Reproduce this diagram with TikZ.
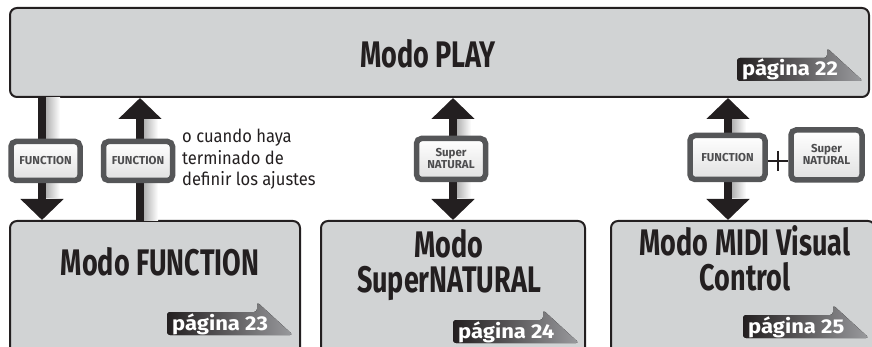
\documentclass[tikz,border=0pt]{standalone}
\usepackage{fontspec}
\setmainfont{Fira Sans}
\newfontfamily\condfont[FakeStretch=0.73]{Fira Sans}
\newfontfamily\notefont[FakeStretch=0.92]{Fira Sans}
\newfontfamily\tagfont[FakeStretch=1.1]{Fira Sans}
\usetikzlibrary{arrows.meta,calc}
\definecolor{ink}{HTML}{231F20}
\definecolor{boxgray}{HTML}{D1D3D4}
\definecolor{btndark}{HTML}{555658}
\definecolor{btntext}{HTML}{4D4D4F}
\definecolor{taggray}{HTML}{9A9B9E}
\newcommand\pagetag[4]{%
  \fill[left color=ink, right color=taggray, rounded corners=3pt]
    (#2+90,#3) -- (#2,#3) -- (#2,#3-23) -- (#2+90,#3-23) -- (#2+90,#3-33) -- (#2+126,#3) -- cycle;
  \node[tagtext] (#1) at (#2+5,#3-5) {#4};
}
\newcommand\shaftshadow[3]{%
  \fill[left color=black!30, right color=white] (#1+4,#2) rectangle (#1+18,#3);
}
\begin{document}
\begin{tikzpicture}[x=1pt,y=-1pt,
  modebox/.style={draw=ink, line width=2pt, fill=boxgray, rounded corners=7pt, inner sep=0pt, outer sep=0pt},
  modetext/.style={font=\condfont\bfseries\fontsize{37}{35}\selectfont, text=ink, align=center, inner sep=0pt, anchor=base},
  bigarrow/.style={draw=ink, line width=8pt, -{Triangle[width=42pt,length=21pt]}, shorten >=1pt},
  dblarrow/.style={draw=ink, line width=8pt, {Triangle[width=42pt,length=21pt]}-{Triangle[width=42pt,length=21pt]}, shorten >=1pt, shorten <=1pt},
  btn/.style={rounded corners=5pt, draw=btndark, line width=5.5pt, top color=white, bottom color=black!12,
    inner sep=0pt, text=btntext, align=center, font=\bfseries\fontsize{11.5}{12}\selectfont},
  tagtext/.style={anchor=base west, inner sep=0pt, text=white, font=\tagfont\bfseries\fontsize{20}{20}\selectfont},
  note/.style={anchor=north west, inner sep=0pt, align=left, text=ink, font=\notefont\fontsize{18}{21.5}\selectfont}
]
\useasboundingbox (0,0) rectangle (872,347);
\clip (0,0) rectangle (872,347);

% mode boxes
\node[modebox, minimum width=859pt, minimum height=89pt] (play) at (439.5,52.5) {};
\node[modebox, minimum width=290pt, minimum height=150pt] (fn) at (155,296) {};
\node[modebox, minimum width=264pt, minimum height=150pt] (sn) at (453,296) {};
\node[modebox, minimum width=264pt, minimum height=150pt] (midi) at (743,296) {};

% titles
\node[modetext] (tplay) at (428,68) {Modo PLAY};
\node[modetext] (tfn) at (160,275) {Modo FUNCTION};
\node[modetext] (tsn) at (449,292) {Modo\\SuperNATURAL};
\node[modetext] (tmidi) at (745,290) {Modo MIDI Visual\\Control};

% page tags
\pagetag{p22}{737}{81}{página 22}
\pagetag{p23}{167}{335}{página 23}
\pagetag{p24}{453}{343}{página 24}
\pagetag{p25}{743}{338}{página 25}

% arrow columns
\coordinate (c1) at (42,0);
\coordinate (c2) at (140,0);
\coordinate (c3) at (453,0);
\coordinate (c4) at (728,0);

\shaftshadow{42}{98}{198}
\shaftshadow{140}{118}{221}
\shaftshadow{453}{118}{198}
\shaftshadow{728}{118}{198}

\draw[bigarrow] (play.south -| c1) -- (fn.north -| c1);
\draw[bigarrow] (fn.north -| c2) -- (play.south -| c2);
\draw[dblarrow] (play.south -| c3) -- (sn.north -| c3);
\draw[dblarrow] (play.south -| c4) -- (midi.north -| c4);

% buttons
\node[btn, minimum width=69pt, minimum height=39pt] (bf1) at (45.5,161) {FUNCTION};
\node[btn, minimum width=69pt, minimum height=39pt] (bf2) at (138,161) {FUNCTION};
\node[btn, minimum width=69pt, minimum height=41pt] (bs1) at (451,159) {Super\\NATURAL};
\node[btn, minimum width=75pt, minimum height=44pt] (bf3) at (727.5,157.5) {FUNCTION};
\node[btn, minimum width=71pt, minimum height=50pt] (bs2) at (826.5,155) {Super\\NATURAL};

% plus
\node[inner sep=0pt, minimum size=20pt] (plus) at (778,161) {};
\draw[ink, line width=2.5pt] (plus.west) -- (plus.east) (plus.north) -- (plus.south);

% note
\node[note] (nt) at (182,129) {o cuando haya\\terminado de\\definir los ajustes};
\end{tikzpicture}
\end{document}
